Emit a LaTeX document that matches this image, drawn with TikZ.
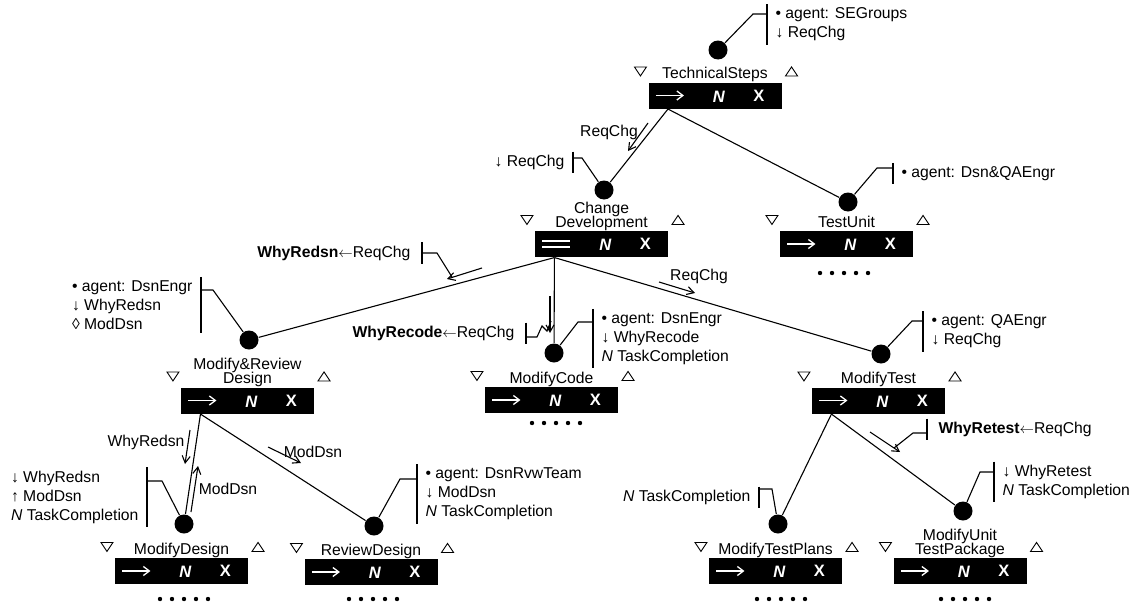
\documentclass[tikz,border=0pt]{standalone}
\usepackage{fontspec}
\setmainfont{Liberation Sans}
\usetikzlibrary{arrows.meta,calc}

\newcommand\tightlines{\lineskiplimit=-10pt\relax}
\tikzset{
  dot/.style={circle, fill, inner sep=0pt, minimum size=19pt},
  stepbox/.style={fill=black, minimum width=133pt, minimum height=26pt, inner sep=0pt},
  steplabel/.style={anchor=south, inner sep=0pt, align=center,
    font=\fontsize{15.7}{14}\selectfont\tightlines, execute at end node=\vphantom{p}},
  note/.style={align=left, inner xsep=8pt, inner ysep=3pt, font=\fontsize{15.7}{19}\selectfont},
  why/.style={note, inner xsep=11pt},
  lbl/.style={inner sep=1pt, font=\fontsize{15.7}{19}\selectfont},
  badge/.style={text=white, inner sep=0pt, font=\fontsize{16.5}{16.5}\selectfont\bfseries},
  tri/.style={line width=0.9pt},
  msg/.style={-{Straight Barb[length=7pt,width=8pt]}},
  seq badge/.pic={\draw[white, line width=1.3pt, -{Straight Barb[length=6pt,width=9pt]}] (0,0) -- (28,0);},
  par badge/.pic={\draw[white, line width=1.3pt] (0,-3) -- (28,-3) (0,3) -- (28,3);},
  more/.pic={\foreach \i in {0,...,4} \fill (\i*12,0) circle (2.2pt);},
}

% one Little-JIL step: box, name, badges, the two triangles
\newcommand\ljstep[4]{%
  \node[stepbox] (#1) at (#2) {};
  \node[steplabel] (#1-label) at ($(#1.north)+(0,0.4)$) {#3};
  \pic at ($(#1.west)+(8,0)$) {#4 badge};
  \node[badge] (#1-n) at ($(#1.west)+(71,1)$) {\textit{N}};
  \node[badge] (#1-x) at ($(#1.west)+(111,0)$) {X};
  \draw[tri] ($(#1.north west)+(-13.5,-15)$) -- ++(12,0) -- ++(-6,9) -- cycle;
  \draw[tri] ($(#1.north east)+(3.5,-6)$) -- ++(12,0) -- ++(-6,-9) -- cycle;
  \coordinate (#1-out) at ($(#1.south west)+(20,0)$);
}
\newcommand\raisedby{\ensuremath{\leftarrow}}

\begin{document}
\begin{tikzpicture}[x=1pt, y=-1pt, line width=1.1pt]
  \useasboundingbox (0,0) rectangle (1138,605);

  % steps
  \ljstep{ts}{715,95.5}{TechnicalSteps}{seq}
  \ljstep{cd}{601.5,244}{Change\\Development}{par}
  \ljstep{tu}{846.5,244}{TestUnit}{seq}
  \ljstep{mr}{247.5,400.5}{Modify\&Review\\Design}{seq}
  \ljstep{mc}{551.5,400}{ModifyCode}{seq}
  \ljstep{mt}{878.5,400.5}{ModifyTest}{seq}
  \ljstep{md}{181.5,571}{ModifyDesign}{seq}
  \ljstep{rd}{371,572}{ReviewDesign}{seq}
  \ljstep{mtp}{775.5,571}{ModifyTestPlans}{seq}
  \ljstep{mutp}{960,571}{ModifyUnit\\TestPackage}{seq}

  \pic (tu-more) at (820,273) {more};
  \pic (mc-more) at (532,423) {more};
  \pic (md-more) at (160,599) {more};
  \pic (rd-more) at (349,599) {more};
  \pic (mtp-more) at (757,599) {more};
  \pic (mutp-more) at (941,599) {more};

  \node[dot] (ts-dot) at (718,50) {};
  \node[dot] (cd-dot) at (604,190) {};
  \node[dot] (tu-dot) at (848,202) {};
  \node[dot] (mr-dot) at (249,340) {};
  \node[dot] (mc-dot) at (554,353) {};
  \node[dot] (mt-dot) at (881,354) {};
  \node[dot] (md-dot) at (184,524) {};
  \node[dot] (rd-dot) at (374,526) {};
  \node[dot] (mtp-dot) at (778,524) {};
  \node[dot] (mutp-dot) at (963,511) {};

  % substeps
  \draw (ts-out) -- (cd-dot);
  \draw (ts-out) -- (tu-dot);
  \draw (cd-out) -- (mr-dot);
  \draw (cd-out) -- (mc-dot);
  \draw (cd-out) -- (mt-dot);
  \draw (mr-out) -- (md-dot);
  \draw (mr-out) -- (rd-dot);
  \draw (mt-out) -- (mtp-dot);
  \draw (mt-out) -- (mutp-dot);

  % parameters
  \node[note, anchor=west] (ts-note) at (767,24.5) {• agent: SEGroups\\↓ ReqChg};
  \coordinate (ts-elbow) at (753,14);
  \draw (ts-note.north west) -- (ts-note.south west);
  \draw (ts-dot) -- (ts-elbow) -- (ts-elbow -| ts-note.west);

  \node[note, anchor=east] (cd-note) at (573,162.5) {↓ ReqChg};
  \coordinate (cd-elbow) at (582,158);
  \draw (cd-note.north east) -- (cd-note.south east);
  \draw (cd-dot) -- (cd-elbow) -- (cd-elbow -| cd-note.east);

  \node[note, anchor=west] (tu-note) at (893,173.5) {• agent: Dsn\&QAEngr};
  \coordinate (tu-elbow) at (877,168);
  \draw (tu-note.north west) -- (tu-note.south west);
  \draw (tu-dot) -- (tu-elbow) -- (tu-elbow -| tu-note.west);

  \node[note, anchor=east] (mr-note) at (201,305) {• agent: DsnEngr\\↓ WhyRedsn\\◊ ModDsn};
  \coordinate (mr-elbow) at (213,290);
  \draw (mr-note.north east) -- (mr-note.south east);
  \draw (mr-dot) -- (mr-elbow) -- (mr-elbow -| mr-note.east);

  \node[note, anchor=west] (mc-note) at (593,338.5) {• agent: DsnEngr\\↓ WhyRecode\\\textit{N} TaskCompletion};
  \coordinate (mc-elbow) at (578,322);
  \draw (mc-note.north west) -- (mc-note.south west);
  \draw (mc-dot) -- (mc-elbow) -- (mc-elbow -| mc-note.west);

  \node[note, anchor=west] (mt-note) at (923,331.5) {• agent: QAEngr\\↓ ReqChg};
  \coordinate (mt-elbow) at (912,321);
  \draw (mt-note.north west) -- (mt-note.south west);
  \draw (mt-dot) -- (mt-elbow) -- (mt-elbow -| mt-note.west);

  \node[note, anchor=east] (md-note) at (147,497) {↓ WhyRedsn\\↑ ModDsn\\\textit{N} TaskCompletion};
  \coordinate (md-elbow) at (162,481);
  \draw (md-note.north east) -- (md-note.south east);
  \draw (md-dot) -- (md-elbow) -- (md-elbow -| md-note.east);

  \node[note, anchor=west] (rd-note) at (417,494) {• agent: DsnRvwTeam\\↓ ModDsn\\\textit{N} TaskCompletion};
  \coordinate (rd-elbow) at (400,479);
  \draw (rd-note.north west) -- (rd-note.south west);
  \draw (rd-dot) -- (rd-elbow) -- (rd-elbow -| rd-note.west);

  \node[note, anchor=east] (mtp-note) at (759,497.5) {\textit{N} TaskCompletion};
  \coordinate (mtp-elbow) at (772,489);
  \draw (mtp-note.north east) -- (mtp-note.south east);
  \draw (mtp-dot) -- (mtp-elbow) -- (mtp-elbow -| mtp-note.east);

  \node[note, anchor=west] (mutp-note) at (994,482) {↓ WhyRetest\\\textit{N} TaskCompletion};
  \coordinate (mutp-elbow) at (980,472);
  \draw (mutp-note.north west) -- (mutp-note.south west);
  \draw (mutp-dot) -- (mutp-elbow) -- (mutp-elbow -| mutp-note.west);

  % data flow
  \draw[msg] (648,123) -- (628,151);
  \node[lbl] (ts-req) at (609,132) {ReqChg};
  \draw[msg] (482,268) -- (447,279) coordinate (wrd-tip);
  \draw[msg] (550,296) -- (550,333) coordinate (wrc-tip);
  \draw[msg] (659,282) -- (695,293);
  \node[lbl] (cd-req) at (699,276) {ReqChg};
  \draw[msg] (190,430) -- (185,464);
  \node[lbl] (mr-why) at (146,442) {WhyRedsn};
  \draw[msg] (191,512) -- (198,466);
  \node[lbl] (md-mod) at (228,489) {ModDsn};
  \draw[msg] (268,447) -- (301,463);
  \node[lbl] (rd-mod) at (313,452) {ModDsn};
  \draw[msg] (870,432) -- (900,452) coordinate (wrt-tip);

  % exception handlers
  \node[why, anchor=east] (wrd-note) at (422,253) {\textbf{WhyRedsn}\raisedby ReqChg};
  \draw (wrd-note.north east) -- (wrd-note.south east);
  \draw (wrd-note.east) -- (437,253) -- (452,277);

  \node[why, anchor=east] (wrc-note) at (526,333.5) {\textbf{WhyRecode}\raisedby ReqChg};
  \coordinate (wrc-elbow) at (537,337);
  \draw (wrc-note.north east) -- (wrc-note.south east);
  \draw (wrc-elbow -| wrc-note.east) -- (wrc-elbow) -- (542,326) -- (547,331) -- (551,321);

  \node[why, anchor=west] (wrt-note) at (927,429.5) {\textbf{WhyRetest}\raisedby ReqChg};
  \coordinate (wrt-elbow) at (913,433);
  \draw (wrt-note.north west) -- (wrt-note.south west);
  \draw (wrt-elbow -| wrt-note.west) -- (wrt-elbow) -- (894,448);
\end{tikzpicture}
\end{document}
